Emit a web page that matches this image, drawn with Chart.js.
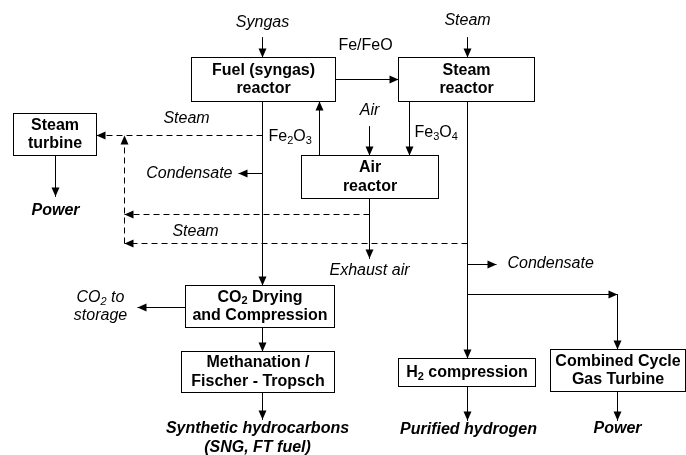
<!DOCTYPE html>
<html>
<head>
<meta charset="utf-8">
<script src="https://cdn.jsdelivr.net/npm/chart.js@4"></script>
<style>
body{margin:0;background:#fff;}
canvas{display:block;}
</style>
</head>
<body>
<canvas id="flow" width="686" height="455"></canvas>
<script>
// box texts ("_2" = subscript 2)
var boxText=[
	["Fuel (syngas)","reactor"],
	["Steam","reactor"],
	["Steam","turbine"],
	["Air","reactor"],
	["CO_2 Drying","and Compression"],
	["Methanation /","Fischer - Tropsch"],
	["H_2 compression"],
	["Combined Cycle","Gas Turbine"]
];
// box corners [x0,y0,x1,y1] in diagram units
var boxRect=[
	[191,57,335,101],
	[398,57,534,101],
	[13,113,96,155],
	[301,155,438,198],
	[185,285,334,327],
	[181,351,334,392],
	[398,358,535,386],
	[550,349,685,391]
];
// flow arrows (solid)
var flowPaths=[
	[[262,37],[262,57]],
	[[467,37],[467,57]],
	[[335,79],[398,79]],
	[[319,155],[319,101]],
	[[369,126],[369,155]],
	[[409,101],[409,155]],
	[[262,101],[262,285]],
	[[262,173],[238,173]],
	[[55,155],[55,196]],
	[[369,198],[369,258]],
	[[185,307],[137,307]],
	[[262,327],[262,351]],
	[[262,392],[262,419]],
	[[467,101],[467,358]],
	[[467,264],[496,264]],
	[[467,294],[617,294]],
	[[617,294],[617,349]],
	[[467,386],[467,420]],
	[[617,391],[617,420]]
];
// steam arrows (dashed)
var steamPaths=[
	[[262,135],[96,135]],
	[[124,243],[124,135]],
	[[369,214],[124,214]],
	[[467,243],[124,243]]
];
// free labels: text, style
var labelText=["Syngas","Steam","Fe/FeO","Steam","Fe_2O_3","Air","Fe_3O_4","Condensate","Power","Steam","Exhaust air","Condensate","CO_2 to","storage","Synthetic hydrocarbons","(SNG, FT fuel)","Purified hydrogen","Power"];
var labelStyle=["i","i","n","i","n","i","n","i","bi","i","i","i","i","i","bi","bi","bi","bi"];
// label anchor [x,y,align]
var labelPos=[
	[262,22,"center"],[467,20,"center"],[365,45,"center"],[186,118,"center"],
	[268,136,"left"],[369,110,"center"],[414,132,"left"],[232,173,"right"],
	[55,210,"center"],[195,231,"center"],[369,270,"center"],[507,263,"left"],
	[100,297,"center"],[100,315,"center"],[257,428,"center"],[257,447,"center"],
	[468,429,"center"],[617,428,"center"]
];

var FAM='"Liberation Sans", Arial, sans-serif';

function toPoints(path){
	var pts=[];
	for(var i=0;i<path.length;i++){
		pts.push({x:path[i][0],y:path[i][1]});
	}
	return pts;
}

var datasets=[];
for(var i=0;i<flowPaths.length;i++){
	datasets.push({data:toPoints(flowPaths[i]),showLine:true,borderColor:'#000',borderWidth:1,pointRadius:0,fill:false,arrow:true});
}
for(var i=0;i<steamPaths.length;i++){
	datasets.push({data:toPoints(steamPaths[i]),showLine:true,borderColor:'#000',borderWidth:1,borderDash:[6,4],pointRadius:0,fill:false,arrow:true});
}

function fontFor(style,size){
	if(style=="bi") return "italic bold "+size+"px "+FAM;
	if(style=="b") return "bold "+size+"px "+FAM;
	if(style=="i") return "italic "+size+"px "+FAM;
	return size+"px "+FAM;
}

// text with subscripts, "_X" -> X lowered
function drawRich(ctx,str,x,y,style,align){
	var parts=[];
	var buf='';
	for(var i=0;i<str.length;i++){
		if(str[i]=='_'){
			if(buf) parts.push({t:buf,sub:false});
			buf='';
			parts.push({t:str[i+1],sub:true});
			i++;
		}else{
			buf+=str[i];
		}
	}
	if(buf) parts.push({t:buf,sub:false});
	var w=0;
	for(var i=0;i<parts.length;i++){
		ctx.font=fontFor(style,parts[i].sub?11:16);
		parts[i].w=ctx.measureText(parts[i].t).width;
		w+=parts[i].w;
	}
	var sx=x;
	if(align=="center") sx=x-w/2;
	if(align=="right") sx=x-w;
	ctx.textAlign='left';
	ctx.textBaseline='middle';
	for(var i=0;i<parts.length;i++){
		ctx.font=fontFor(style,parts[i].sub?11:16);
		ctx.fillText(parts[i].t,sx,parts[i].sub?y+4:y);
		sx+=parts[i].w;
	}
}

var diagramPlugin={
	id:'diagram',
	afterDatasetsDraw:function(chart){
		var ctx=chart.ctx;
		var sx=chart.scales.x, sy=chart.scales.y;
		var px=function(v){return sx.getPixelForValue(v);};
		var py=function(v){return sy.getPixelForValue(v);};
		ctx.save();
		// arrow heads
		ctx.fillStyle='#000';
		chart.data.datasets.forEach(function(ds){
			if(!ds.arrow) return;
			var n=ds.data.length;
			var a=ds.data[n-2], b=ds.data[n-1];
			var x1=px(a.x),y1=py(a.y),x2=px(b.x),y2=py(b.y);
			var ang=Math.atan2(y2-y1,x2-x1);
			var L=9,H=4;
			ctx.beginPath();
			ctx.moveTo(x2,y2);
			ctx.lineTo(x2-L*Math.cos(ang)+H*Math.sin(ang),y2-L*Math.sin(ang)-H*Math.cos(ang));
			ctx.lineTo(x2-L*Math.cos(ang)-H*Math.sin(ang),y2-L*Math.sin(ang)+H*Math.cos(ang));
			ctx.closePath();
			ctx.fill();
		});
		// boxes
		ctx.strokeStyle='#000';
		ctx.lineWidth=1;
		for(var i=0;i<boxRect.length;i++){
			var r=boxRect[i];
			var x0=px(r[0]),y0=py(r[1]),x1=px(r[2]),y1=py(r[3]);
			ctx.fillStyle='#fff';
			ctx.fillRect(x0,y0,x1-x0,y1-y0);
			ctx.strokeRect(x0,y0,x1-x0,y1-y0);
			ctx.fillStyle='#000';
			var lines=boxText[i];
			var cx=(x0+x1)/2, cy=(y0+y1)/2;
			var lh=18.5;
			for(var j=0;j<lines.length;j++){
				drawRich(ctx,lines[j],cx,cy+(j-(lines.length-1)/2)*lh,"b","center");
			}
		}
		// labels
		ctx.fillStyle='#000';
		for(var i=0;i<labelText.length;i++){
			var p=labelPos[i];
			drawRich(ctx,labelText[i],px(p[0]),py(p[1]),labelStyle[i],p[2]);
		}
		ctx.restore();
	}
};

var chart=new Chart(document.getElementById('flow').getContext('2d'),{
	type:'scatter',
	data:{datasets:datasets},
	options:{
		responsive:false,
		animation:false,
		events:[],
		layout:{padding:0},
		plugins:{legend:{display:false},tooltip:{enabled:false}},
		scales:{
			x:{type:'linear',min:-0.5,max:685.5,display:false},
			y:{type:'linear',min:-0.5,max:454.5,reverse:true,display:false}
		}
	},
	plugins:[diagramPlugin]
});
</script>
</body>
</html>
